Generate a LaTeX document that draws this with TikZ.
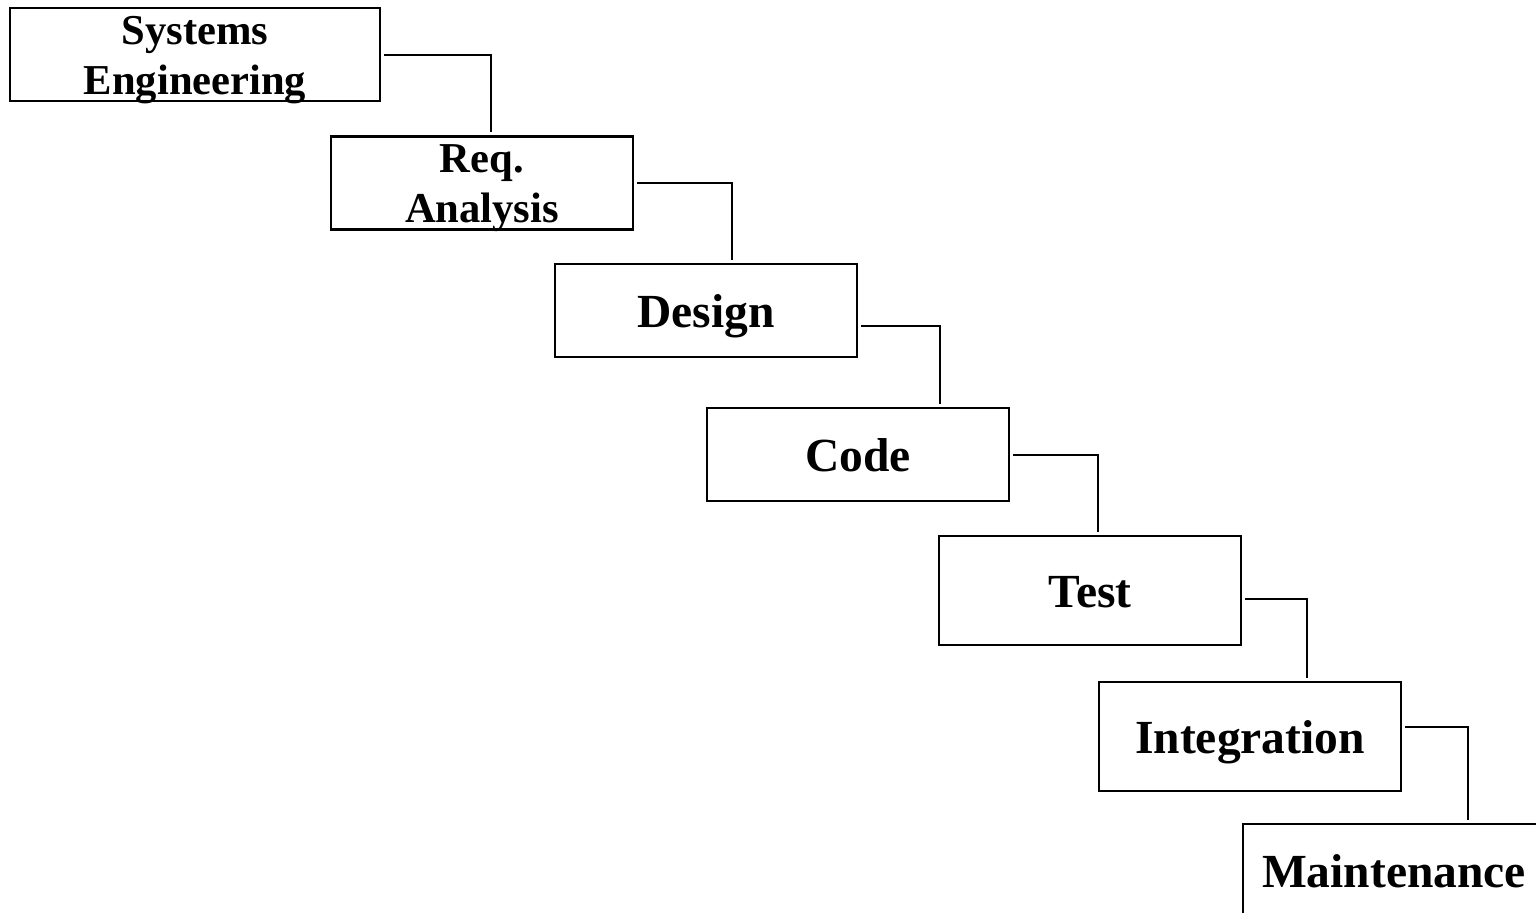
\documentclass[tikz,border=0pt]{standalone}
\usepackage{fontspec}
\setmainfont{Liberation Serif}
\usepackage{tikz}

\tikzset{
	phase/.style={draw=black, line width=1.3pt, minimum width=151pt, minimum height=46.5pt,
		inner sep=0pt, align=center, text height=17pt, text depth=0pt,
		font=\bfseries\fontsize{23.75}{26}\selectfont},
	twoline/.style={text height=40pt, font=\bfseries\fontsize{21.3}{25}\selectfont},
	link/.style={line width=1.3pt, shorten <=1.5pt, shorten >=1.5pt}
}

\begin{document}
\begin{tikzpicture}[x=0.5pt, y=-0.5pt]
	\useasboundingbox (0,0) rectangle (1536,913);
	\clip (0,0) rectangle (1536,913);

	% phases of the waterfall
	\node[phase, twoline, minimum width=185pt] (syseng) at (195,54.5) {Systems\\Engineering};
	\node[phase, twoline] (req) at (482,183) {Req.\\Analysis};
	\node[phase] (design) at (706,310.5) {Design};
	\node[phase] (code) at (858,454.5) {Code};
	\node[phase, minimum height=54.5pt] (test) at (1090,590.5) {Test};
	\node[phase, minimum height=54.5pt] (integ) at (1250,736.5) {Integration};
	\node[phase] (maint) at (1394,870.5) {Maintenance};

	% bends of the step lines
	\coordinate (k1) at (491,55);
	\coordinate (k2) at (732,183);
	\coordinate (k3) at (940,326);
	\coordinate (k4) at (1098,455);
	\coordinate (k5) at (1307,599);
	\coordinate (k6) at (1468,727);

	\draw[link] (syseng.east |- k1) -- (k1) -- (k1 |- req.north);
	\draw[link] (req.east |- k2) -- (k2) -- (k2 |- design.north);
	\draw[link] (design.east |- k3) -- (k3) -- (k3 |- code.north);
	\draw[link] (code.east |- k4) -- (k4) -- (k4 |- test.north);
	\draw[link] (test.east |- k5) -- (k5) -- (k5 |- integ.north);
	\draw[link] (integ.east |- k6) -- (k6) -- (k6 |- maint.north);
\end{tikzpicture}
\end{document}
